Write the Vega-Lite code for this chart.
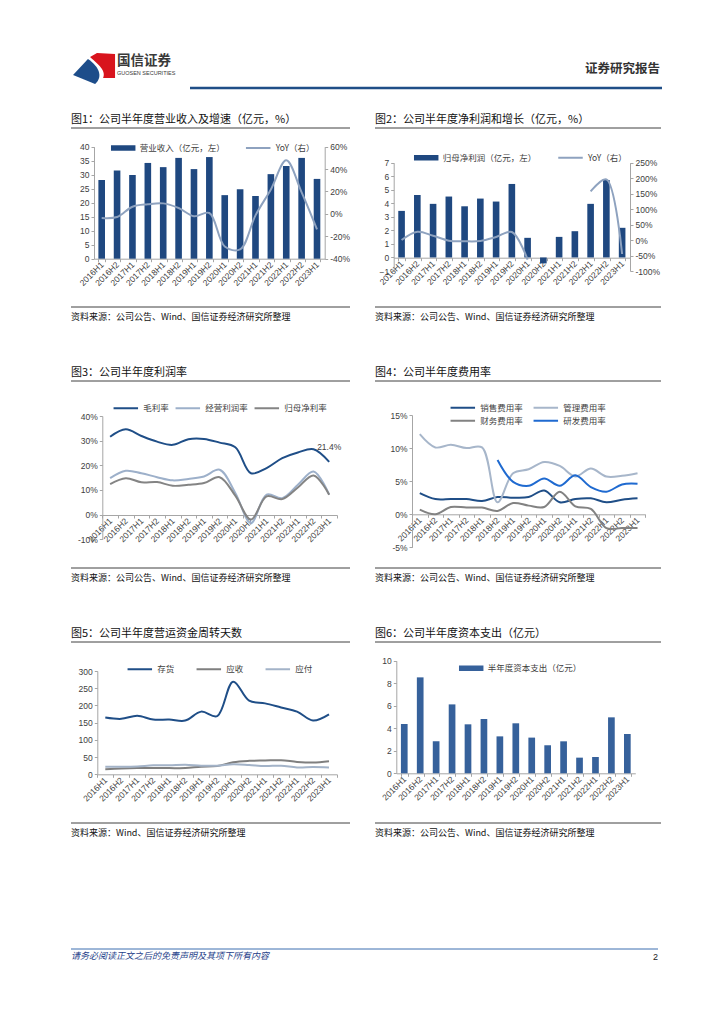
{
"$schema": "https://vega.github.io/schema/vega-lite/v6.json",
"padding": {"left": 68, "top": 52, "right": 0, "bottom": 0},
"background": "white",
"config": {
 "font": "Noto Sans CJK SC",
 "view": {"stroke": null},
 "axis": {"labelFont": "Liberation Sans", "labelFontSize": 8.5, "labelColor": "#404040", "domainColor": "#a6a6a6", "tickColor": "#a6a6a6", "tickSize": 3, "labelPadding": 2, "grid": false, "title": null, "labelOverlap": false, "labelBound": false},
 "legend": {"labelFont": "Noto Sans CJK SC", "labelFontSize": 8.5, "labelColor": "#404040", "padding": 0, "labelOffset": 4},
 "title": {"font": "Noto Sans CJK SC", "fontWeight": "normal", "color": "#111111"}
},
"datasets": {
 "one": [{"a": 0, "b": 1}],
 "d": [
  {"p": "2016H1", "rev": 28.1, "revYoY": -3.7, "ni": 3.44, "niYoY": 0, "毛利率": 31.6, "经营利润率": 14.8, "归母净利率": 12.4, "销售费用率": 3.2, "管理费用率": 12.1, "财务费用率": 0.7, "研发费用率": null, "存货": 165, "应收": 15, "应付": 22, "capex": 4.38},
  {"p": "2016H2", "rev": 31.5, "revYoY": -2.8, "ni": 4.62, "niYoY": 27, "毛利率": 34.6, "经营利润率": 17.8, "归母净利率": 14.8, "销售费用率": 2.3, "管理费用率": 10.1, "财务费用率": 0.0, "研发费用率": null, "存货": 161, "应收": 17, "应付": 22, "capex": 8.52},
  {"p": "2017H1", "rev": 29.9, "revYoY": 6.4, "ni": 3.96, "niYoY": 14, "毛利率": 31.9, "经营利润率": 16.8, "归母净利率": 13.1, "销售费用率": 2.3, "管理费用率": 10.5, "财务费用率": 1.1, "研发费用率": null, "存货": 170, "应收": 18, "应付": 23, "capex": 2.84},
  {"p": "2017H2", "rev": 34.2, "revYoY": 8.6, "ni": 4.50, "niYoY": -2, "毛利率": 29.6, "经营利润率": 15.2, "归母净利率": 13.2, "销售费用率": 2.3, "管理费用率": 10.0, "财务费用率": 1.0, "研发费用率": null, "存货": 159, "应收": 18, "应付": 26, "capex": 6.12},
  {"p": "2018H1", "rev": 32.7, "revYoY": 9.4, "ni": 3.78, "niYoY": -4, "毛利率": 28.3, "经营利润率": 13.9, "归母净利率": 11.7, "销售费用率": 2.0, "管理费用率": 10.1, "财务费用率": 1.0, "研发费用率": null, "存货": 159, "应收": 18, "应付": 26, "capex": 4.35},
  {"p": "2018H2", "rev": 36.0, "revYoY": 5.3, "ni": 4.35, "niYoY": -3, "毛利率": 30.6, "经营利润率": 14.5, "归母净利率": 12.1, "销售费用率": 2.6, "管理费用率": 1.8, "财务费用率": 0.5, "研发费用率": 8.2, "存货": 156, "应收": 18, "应付": 28, "capex": 4.82},
  {"p": "2019H1", "rev": 32.0, "revYoY": -2.1, "ni": 4.13, "niYoY": 10, "毛利率": 30.7, "经营利润率": 15.5, "归母净利率": 12.8, "销售费用率": 2.5, "管理费用率": 6.2, "财务费用率": 1.7, "研发费用率": 4.9, "存货": 182, "应收": 22, "应付": 25, "capex": 3.28},
  {"p": "2019H2", "rev": 36.3, "revYoY": 0.8, "ni": 5.43, "niYoY": 26, "毛利率": 29.2, "经营利润率": 18.2, "归母净利率": 15.2, "销售费用率": 2.6, "管理费用率": 6.8, "财务费用率": 1.3, "研发费用率": 4.3, "存货": 169, "应收": 24, "应付": 25, "capex": 4.44},
  {"p": "2020H1", "rev": 22.7, "revYoY": -29.1, "ni": 1.45, "niYoY": -63, "毛利率": 27.3, "经营利润率": 8.8, "归母净利率": 7.7, "销售费用率": 3.6, "管理费用率": 7.9, "财务费用率": 1.1, "研发费用率": 5.4, "存货": 269, "应收": 35, "应付": 29, "capex": 3.17},
  {"p": "2020H2", "rev": 24.8, "revYoY": -31.7, "ni": -0.44, "niYoY": null, "毛利率": 16.8, "经营利润率": -3.4, "归母净利率": -2.0, "销售费用率": 1.8, "管理费用率": 7.3, "财务费用率": 3.4, "研发费用率": 4.3, "存货": 214, "应收": 39, "应付": 27, "capex": 2.49},
  {"p": "2021H1", "rev": 22.4, "revYoY": -1.3, "ni": 1.52, "niYoY": null, "毛利率": 18.9, "经营利润率": 8.1, "归母净利率": 7.4, "销售费用率": 2.3, "管理费用率": 5.7, "财务费用率": 1.2, "研发费用率": 5.9, "存货": 206, "应收": 40, "应付": 24, "capex": 2.84},
  {"p": "2021H2", "rev": 30.2, "revYoY": 21.8, "ni": 1.94, "niYoY": null, "毛利率": 22.9, "经营利润率": 6.7, "归母净利率": 6.3, "销售费用率": 2.4, "管理费用率": 6.9, "财务费用率": 0.8, "研发费用率": 4.1, "存货": 194, "应收": 41, "应付": 25, "capex": 1.39},
  {"p": "2022H1", "rev": 33.1, "revYoY": 47.8, "ni": 3.96, "niYoY": 157, "毛利率": 25.2, "经营利润率": 12.1, "归母净利率": 11.0, "销售费用率": 1.8, "管理费用率": 5.7, "财务费用率": -2.1, "研发费用率": 3.4, "存货": 182, "应收": 36, "应付": 20, "capex": 1.45},
  {"p": "2022H2", "rev": 36.0, "revYoY": 19.2, "ni": 5.72, "niYoY": 196, "毛利率": 26.5, "经营利润率": 17.5, "归母净利率": 15.9, "销售费用率": 2.2, "管理费用率": 5.8, "财务费用率": -2.1, "研发费用率": 4.5, "存货": 156, "应收": 34, "应付": 21, "capex": 4.97},
  {"p": "2023H1", "rev": 28.5, "revYoY": -13.9, "ni": 2.19, "niYoY": -45, "毛利率": 21.4, "经营利润率": 8.1, "归母净利率": 8.1, "销售费用率": 2.4, "管理费用率": 6.2, "财务费用率": -2.1, "研发费用率": 4.6, "存货": 174, "应收": 38, "应付": 20, "capex": 3.49}
 ]
},
"resolve": {"scale": {"color": "independent", "stroke": "independent", "shape": "independent"}, "legend": {"color": "independent", "stroke": "independent", "shape": "independent"}},
"spacing": 24,
"vconcat": [
 {
  "hconcat": [
   {"width": 44, "height": 32,
    "data": {"values": [{"part": "蓝"}, {"part": "红"}]},
    "mark": {"type": "point", "filled": true, "opacity": 1, "size": 1764, "strokeWidth": 0},
    "encoding": {
     "shape": {"field": "part", "type": "nominal", "scale": {"domain": ["蓝", "红"], "range": ["M-0.95,0.33L-0.24,-0.43C0.24,-0.1 0.52,0.38 0.1,0.76Z", "M-0.14,-0.52L0.19,-0.71L1.05,-0.67L1.05,0.48L0.48,0.48C0.67,0.1 0.1,-0.29 -0.14,-0.52Z"]}, "legend": null},
     "color": {"field": "part", "type": "nominal", "scale": {"domain": ["蓝", "红"], "range": ["#1d4d8a", "#d8141d"]}, "legend": null}
    }
   },
   {"width": 70, "height": 1,
    "data": {"name": "one"},
    "title": {"text": "国信证券", "subtitle": "GUOSEN SECURITIES", "orient": "bottom", "anchor": "start", "frame": "group", "offset": 1, "fontSize": 13.5, "fontWeight": "bold", "color": "#3a3a3a", "subtitleFont": "Liberation Sans", "subtitleFontSize": 5.5, "subtitleColor": "#3a3a3a", "subtitlePadding": 3},
    "mark": {"type": "rule", "strokeOpacity": 0},
    "encoding": {"x": {"field": "a", "type": "quantitative", "scale": {"domain": [0, 1]}, "axis": null}, "x2": {"field": "b"}}
   },
   {"width": 472, "height": 36,
    "data": {"name": "one"},
    "title": {"text": "证券研究报告", "anchor": "end", "frame": "group", "offset": -23, "dx": -2, "fontSize": 12.5, "fontWeight": "bold", "color": "#333333"},
    "mark": {"type": "rule", "color": "#1f4e87", "strokeWidth": 2.5},
    "encoding": {"x": {"field": "a", "type": "quantitative", "scale": {"domain": [0, 1]}, "axis": null}, "x2": {"field": "b"}, "y": {"datum": 0, "type": "quantitative", "scale": {"domain": [0, 1]}, "axis": null}}
   }
  ],
  "spacing": 1,
  "resolve": {"scale": {"color": "independent", "stroke": "independent", "shape": "independent"}, "legend": {"color": "independent", "stroke": "independent", "shape": "independent"}}
 },
 {
  "spacing": 45,
  "resolve": {"scale": {"color": "independent", "stroke": "independent", "shape": "independent"}, "legend": {"color": "independent", "stroke": "independent", "shape": "independent"}},
  "vconcat": [
   {
    "spacing": 21,
    "resolve": {"scale": {"color": "independent", "stroke": "independent", "shape": "independent"}, "legend": {"color": "independent", "stroke": "independent", "shape": "independent"}},
    "hconcat": [
     {
      "spacing": 0,
      "resolve": {"scale": {"color": "independent", "stroke": "independent", "shape": "independent"}, "legend": {"color": "independent", "stroke": "independent", "shape": "independent"}},
      "vconcat": [
       {"width": 279, "height": 1, "data": {"name": "one"},
        "title": {"text": "图1：公司半年度营业收入及增速（亿元，%）", "anchor": "start", "frame": "group", "offset": 2, "fontSize": 11},
        "mark": {"type": "rule", "color": "#404040", "strokeWidth": 1},
        "encoding": {"x": {"field": "a", "type": "quantitative", "scale": {"domain": [0, 1]}, "axis": null}, "x2": {"field": "b"}, "y": {"datum": 0, "type": "quantitative", "scale": {"domain": [0, 1]}, "axis": null}}},
       {"width": 279, "height": 177, "data": {"name": "d"},
        "layer": [
         {"mark": {"type": "bar", "color": "#1f4880"},
          "encoding": {
           "x": {"field": "p", "type": "ordinal", "sort": null, "scale": {"type": "band", "range": [23, 253.7], "paddingInner": 0.57, "paddingOuter": 0.285}, "axis": {"offset": -47.3, "labelAngle": -45, "labelAlign": "right", "labelBaseline": "middle", "tickBand": "extent", "labelOverlap": false, "labelPadding": 1}},
           "y": {"field": "rev", "type": "quantitative", "scale": {"domain": [0, 40], "range": [129.7, 17.7], "nice": false}, "axis": {"orient": "left", "offset": -23, "values": [0, 5, 10, 15, 20, 25, 30, 35, 40], "labelOverlap": false}},
           "color": {"datum": "营业收入（亿元，左）", "type": "nominal", "scale": {"range": ["#1f4880"]}, "legend": {"title": null, "orient": "none", "legendX": 39.7, "legendY": 14, "direction": "horizontal", "symbolType": "M-1,-0.22H1V0.22H-1Z", "symbolSize": 600, "symbolStrokeWidth": 0, "clipHeight": 10}}
          }},
         {"mark": {"type": "line", "strokeWidth": 2, "interpolate": "catmull-rom"},
          "encoding": {
           "x": {"field": "p", "type": "ordinal", "sort": null, "bandPosition": 0.5, "scale": {"type": "band", "range": [23, 253.7], "paddingInner": 0.57, "paddingOuter": 0.285}},
           "y": {"field": "revYoY", "type": "quantitative", "scale": {"domain": [-40, 60], "range": [129.7, 17.7], "nice": false, "zero": false}, "axis": {"orient": "right", "offset": -25.3, "values": [-40, -20, 0, 20, 40, 60], "labelExpr": "datum.value + '%'", "labelOverlap": false}},
           "stroke": {"datum": "YoY（右）", "type": "nominal", "scale": {"range": ["#8ea2bf"]}, "legend": {"title": null, "orient": "none", "legendX": 173.7, "legendY": 14, "direction": "horizontal", "symbolType": "stroke", "symbolSize": 600, "symbolStrokeWidth": 2, "clipHeight": 10}}
          }}
        ],
        "resolve": {"scale": {"y": "independent"}, "axis": {"y": "independent"}}},
       {"width": 279, "height": 1, "data": {"name": "one"},
        "title": {"text": "资料来源：公司公告、Wind、国信证券经济研究所整理", "orient": "bottom", "anchor": "start", "frame": "group", "offset": 5, "fontSize": 9},
        "mark": {"type": "rule", "color": "#404040", "strokeWidth": 1},
        "encoding": {"x": {"field": "a", "type": "quantitative", "scale": {"domain": [0, 1]}, "axis": null}, "x2": {"field": "b"}, "y": {"datum": 1, "type": "quantitative", "scale": {"domain": [0, 1]}, "axis": null}}}
      ]
     },
     {
      "spacing": 0,
      "resolve": {"scale": {"color": "independent", "stroke": "independent", "shape": "independent"}, "legend": {"color": "independent", "stroke": "independent", "shape": "independent"}},
      "vconcat": [
       {"width": 286, "height": 1, "data": {"name": "one"},
        "title": {"text": "图2：公司半年度净利润和增长（亿元，%）", "anchor": "start", "frame": "group", "offset": 2, "fontSize": 11},
        "mark": {"type": "rule", "color": "#404040", "strokeWidth": 1},
        "encoding": {"x": {"field": "a", "type": "quantitative", "scale": {"domain": [0, 1]}, "axis": null}, "x2": {"field": "b"}, "y": {"datum": 0, "type": "quantitative", "scale": {"domain": [0, 1]}, "axis": null}}},
       {"width": 286, "height": 177, "data": {"name": "d"},
        "layer": [
         {"mark": {"type": "bar", "color": "#1f4880"},
          "encoding": {
           "x": {"field": "p", "type": "ordinal", "sort": null, "scale": {"type": "band", "range": [18.7, 255], "paddingInner": 0.58, "paddingOuter": 0.29}, "axis": {"offset": -48.3, "labelAngle": -45, "labelAlign": "right", "labelBaseline": "middle", "tickBand": "extent", "labelOverlap": false, "labelPadding": 1}},
           "y": {"field": "ni", "type": "quantitative", "scale": {"domain": [-1, 7], "range": [142, 33.7], "nice": false}, "axis": {"orient": "left", "offset": -18.7, "values": [-1, 0, 1, 2, 3, 4, 5, 6, 7], "labelOverlap": false}},
           "color": {"datum": "归母净利润（亿元，左）", "type": "nominal", "scale": {"range": ["#1f4880"]}, "legend": {"title": null, "orient": "none", "legendX": 38.7, "legendY": 23.7, "direction": "horizontal", "symbolType": "M-1,-0.22H1V0.22H-1Z", "symbolSize": 600, "symbolStrokeWidth": 0, "clipHeight": 10}}
          }},
         {"mark": {"type": "line", "strokeWidth": 2, "interpolate": "catmull-rom", "invalid": "break-paths-show-domains"},
          "encoding": {
           "x": {"field": "p", "type": "ordinal", "sort": null, "bandPosition": 0.5, "scale": {"type": "band", "range": [18.7, 255], "paddingInner": 0.58, "paddingOuter": 0.29}},
           "y": {"field": "niYoY", "type": "quantitative", "scale": {"domain": [-100, 250], "range": [142, 33.7], "nice": false, "zero": false}, "axis": {"orient": "right", "offset": -31, "values": [-100, -50, 0, 50, 100, 150, 200, 250], "labelExpr": "datum.value + '%'", "labelOverlap": false}},
           "stroke": {"datum": "YoY（右）", "type": "nominal", "scale": {"range": ["#8ea2bf"]}, "legend": {"title": null, "orient": "none", "legendX": 182, "legendY": 23.7, "direction": "horizontal", "symbolType": "stroke", "symbolSize": 600, "symbolStrokeWidth": 2, "clipHeight": 10}}
          }}
        ],
        "resolve": {"scale": {"y": "independent"}, "axis": {"y": "independent"}}},
       {"width": 286, "height": 1, "data": {"name": "one"},
        "title": {"text": "资料来源：公司公告、Wind、国信证券经济研究所整理", "orient": "bottom", "anchor": "start", "frame": "group", "offset": 5, "fontSize": 9},
        "mark": {"type": "rule", "color": "#404040", "strokeWidth": 1},
        "encoding": {"x": {"field": "a", "type": "quantitative", "scale": {"domain": [0, 1]}, "axis": null}, "x2": {"field": "b"}, "y": {"datum": 1, "type": "quantitative", "scale": {"domain": [0, 1]}, "axis": null}}}
      ]
     }
    ]
   },
   {
    "spacing": 21,
    "resolve": {"scale": {"color": "independent", "stroke": "independent", "shape": "independent"}, "legend": {"color": "independent", "stroke": "independent", "shape": "independent"}},
    "hconcat": [
     {
      "spacing": 0,
      "resolve": {"scale": {"color": "independent", "stroke": "independent", "shape": "independent"}, "legend": {"color": "independent", "stroke": "independent", "shape": "independent"}},
      "vconcat": [
       {"width": 279, "height": 1, "data": {"name": "one"},
        "title": {"text": "图3：公司半年度利润率", "anchor": "start", "frame": "group", "offset": 2, "fontSize": 11},
        "mark": {"type": "rule", "color": "#404040", "strokeWidth": 1},
        "encoding": {"x": {"field": "a", "type": "quantitative", "scale": {"domain": [0, 1]}, "axis": null}, "x2": {"field": "b"}, "y": {"datum": 0, "type": "quantitative", "scale": {"domain": [0, 1]}, "axis": null}}},
       {"width": 279, "height": 185,
        "layer": [
         {"data": {"name": "d"},
          "transform": [{"fold": ["毛利率", "经营利润率", "归母净利率"], "as": ["s", "v"]}],
          "mark": {"type": "line", "strokeWidth": 2, "interpolate": "catmull-rom"},
          "encoding": {
           "x": {"field": "p", "type": "ordinal", "sort": null, "bandPosition": 0.5, "scale": {"type": "band", "range": [31.3, 266], "paddingInner": 0, "paddingOuter": 0}, "axis": {"offset": -52, "labelAngle": -45, "labelAlign": "right", "labelBaseline": "middle", "tickBand": "extent", "labelOverlap": false, "labelPadding": 1}},
           "y": {"field": "v", "type": "quantitative", "scale": {"domain": [-10, 40], "range": [157.3, 34], "nice": false}, "axis": {"orient": "left", "offset": -31.3, "values": [-10, 0, 10, 20, 30, 40], "labelExpr": "datum.value + '%'", "labelOverlap": false}},
           "stroke": {"field": "s", "type": "nominal", "scale": {"domain": ["毛利率", "经营利润率", "归母净利率"], "range": ["#1f4e87", "#9db0ca", "#848484"]}, "legend": {"title": null, "orient": "none", "legendX": 41.3, "legendY": 21.3, "direction": "horizontal", "symbolType": "stroke", "symbolSize": 600, "symbolStrokeWidth": 2, "clipHeight": 10, "columnPadding": 5}}
          }},
         {"data": {"values": [{"p": "2023H1", "v": 21.4, "t": "21.4%"}]},
          "mark": {"type": "text", "dy": -15, "font": "Liberation Sans", "fontSize": 8.5, "color": "#404040"},
          "encoding": {
           "x": {"field": "p", "type": "ordinal", "sort": null, "bandPosition": 0.5},
           "y": {"field": "v", "type": "quantitative", "axis": {"orient": "left", "offset": -31.3, "values": [-10, 0, 10, 20, 30, 40], "labelExpr": "datum.value + '%'", "labelOverlap": false}},
           "text": {"field": "t"}
          }}
        ]},
       {"width": 279, "height": 1, "data": {"name": "one"},
        "title": {"text": "资料来源：公司公告、Wind、国信证券经济研究所整理", "orient": "bottom", "anchor": "start", "frame": "group", "offset": 5, "fontSize": 9},
        "mark": {"type": "rule", "color": "#404040", "strokeWidth": 1},
        "encoding": {"x": {"field": "a", "type": "quantitative", "scale": {"domain": [0, 1]}, "axis": null}, "x2": {"field": "b"}, "y": {"datum": 1, "type": "quantitative", "scale": {"domain": [0, 1]}, "axis": null}}}
      ]
     },
     {
      "spacing": 0,
      "resolve": {"scale": {"color": "independent", "stroke": "independent", "shape": "independent"}, "legend": {"color": "independent", "stroke": "independent", "shape": "independent"}},
      "vconcat": [
       {"width": 286, "height": 1, "data": {"name": "one"},
        "title": {"text": "图4：公司半年度费用率", "anchor": "start", "frame": "group", "offset": 2, "fontSize": 11},
        "mark": {"type": "rule", "color": "#404040", "strokeWidth": 1},
        "encoding": {"x": {"field": "a", "type": "quantitative", "scale": {"domain": [0, 1]}, "axis": null}, "x2": {"field": "b"}, "y": {"datum": 0, "type": "quantitative", "scale": {"domain": [0, 1]}, "axis": null}}},
       {"width": 286, "height": 185, "data": {"name": "d"},
        "transform": [{"fold": ["销售费用率", "管理费用率", "财务费用率", "研发费用率"], "as": ["s", "v"]}],
        "mark": {"type": "line", "strokeWidth": 2, "interpolate": "catmull-rom"},
        "encoding": {
         "x": {"field": "p", "type": "ordinal", "sort": null, "bandPosition": 0.5, "scale": {"type": "band", "range": [37, 270.3], "paddingInner": 0, "paddingOuter": 0}, "axis": {"offset": -52.7, "labelAngle": -45, "labelAlign": "right", "labelBaseline": "middle", "tickBand": "extent", "labelOverlap": false, "labelPadding": 1}},
         "y": {"field": "v", "type": "quantitative", "scale": {"domain": [-5, 15], "range": [165.3, 33], "nice": false}, "axis": {"orient": "left", "offset": -37, "values": [-5, 0, 5, 10, 15], "labelExpr": "datum.value + '%'", "labelOverlap": false}},
         "stroke": {"field": "s", "type": "nominal", "scale": {"domain": ["销售费用率", "管理费用率", "财务费用率", "研发费用率"], "range": ["#1f4e87", "#a7b6ca", "#828282", "#1f6ad0"]}, "legend": {"title": null, "orient": "none", "legendX": 74.3, "legendY": 20.7, "direction": "horizontal", "columns": 2, "symbolType": "stroke", "symbolSize": 600, "symbolStrokeWidth": 2, "clipHeight": 10, "columnPadding": 9, "rowPadding": 3}}
        }},
       {"width": 286, "height": 1, "data": {"name": "one"},
        "title": {"text": "资料来源：公司公告、Wind、国信证券经济研究所整理", "orient": "bottom", "anchor": "start", "frame": "group", "offset": 5, "fontSize": 9},
        "mark": {"type": "rule", "color": "#404040", "strokeWidth": 1},
        "encoding": {"x": {"field": "a", "type": "quantitative", "scale": {"domain": [0, 1]}, "axis": null}, "x2": {"field": "b"}, "y": {"datum": 1, "type": "quantitative", "scale": {"domain": [0, 1]}, "axis": null}}}
      ]
     }
    ]
   },
   {
    "spacing": 21,
    "resolve": {"scale": {"color": "independent", "stroke": "independent", "shape": "independent"}, "legend": {"color": "independent", "stroke": "independent", "shape": "independent"}},
    "hconcat": [
     {
      "spacing": 0,
      "resolve": {"scale": {"color": "independent", "stroke": "independent", "shape": "independent"}, "legend": {"color": "independent", "stroke": "independent", "shape": "independent"}},
      "vconcat": [
       {"width": 279, "height": 1, "data": {"name": "one"},
        "title": {"text": "图5：公司半年度营运资金周转天数", "anchor": "start", "frame": "group", "offset": 2, "fontSize": 11},
        "mark": {"type": "rule", "color": "#404040", "strokeWidth": 1},
        "encoding": {"x": {"field": "a", "type": "quantitative", "scale": {"domain": [0, 1]}, "axis": null}, "x2": {"field": "b"}, "y": {"datum": 0, "type": "quantitative", "scale": {"domain": [0, 1]}, "axis": null}}},
       {"width": 279, "height": 179, "data": {"name": "d"},
        "transform": [{"fold": ["存货", "应收", "应付"], "as": ["s", "v"]}],
        "mark": {"type": "line", "strokeWidth": 2, "interpolate": "catmull-rom"},
        "encoding": {
         "x": {"field": "p", "type": "ordinal", "sort": null, "bandPosition": 0.5, "scale": {"type": "band", "range": [26.3, 266], "paddingInner": 0, "paddingOuter": 0}, "axis": {"offset": -47.7, "labelAngle": -45, "labelAlign": "right", "labelBaseline": "middle", "tickBand": "extent", "labelOverlap": false, "labelPadding": 1}},
         "y": {"field": "v", "type": "quantitative", "scale": {"domain": [0, 300], "range": [131.3, 28], "nice": false}, "axis": {"orient": "left", "offset": -26.3, "values": [0, 50, 100, 150, 200, 250, 300], "labelOverlap": false}},
         "stroke": {"field": "s", "type": "nominal", "scale": {"domain": ["存货", "应收", "应付"], "range": ["#1f4e87", "#7f7f7f", "#a3b3c8"]}, "legend": {"title": null, "orient": "none", "legendX": 55.3, "legendY": 21.3, "direction": "horizontal", "symbolType": "stroke", "symbolSize": 600, "symbolStrokeWidth": 2, "clipHeight": 10, "columnPadding": 20}}
        }},
       {"width": 279, "height": 1, "data": {"name": "one"},
        "title": {"text": "资料来源：Wind、国信证券经济研究所整理", "orient": "bottom", "anchor": "start", "frame": "group", "offset": 5, "fontSize": 9},
        "mark": {"type": "rule", "color": "#404040", "strokeWidth": 1},
        "encoding": {"x": {"field": "a", "type": "quantitative", "scale": {"domain": [0, 1]}, "axis": null}, "x2": {"field": "b"}, "y": {"datum": 1, "type": "quantitative", "scale": {"domain": [0, 1]}, "axis": null}}}
      ]
     },
     {
      "spacing": 0,
      "resolve": {"scale": {"color": "independent", "stroke": "independent", "shape": "independent"}, "legend": {"color": "independent", "stroke": "independent", "shape": "independent"}},
      "vconcat": [
       {"width": 286, "height": 1, "data": {"name": "one"},
        "title": {"text": "图6：公司半年度资本支出（亿元）", "anchor": "start", "frame": "group", "offset": 2, "fontSize": 11},
        "mark": {"type": "rule", "color": "#404040", "strokeWidth": 1},
        "encoding": {"x": {"field": "a", "type": "quantitative", "scale": {"domain": [0, 1]}, "axis": null}, "x2": {"field": "b"}, "y": {"datum": 0, "type": "quantitative", "scale": {"domain": [0, 1]}, "axis": null}}},
       {"width": 286, "height": 179, "data": {"name": "d"},
        "mark": {"type": "bar", "color": "#36619b"},
        "encoding": {
         "x": {"field": "p", "type": "ordinal", "sort": null, "scale": {"type": "band", "range": [21.3, 260.3], "paddingInner": 0.58, "paddingOuter": 0.29}, "axis": {"offset": -48.7, "labelAngle": -45, "labelAlign": "right", "labelBaseline": "middle", "tickBand": "extent", "labelOverlap": false, "labelPadding": 1}},
         "y": {"field": "capex", "type": "quantitative", "scale": {"domain": [0, 10], "range": [130.3, 17.7], "nice": false}, "axis": {"orient": "left", "offset": -21.3, "values": [0, 2, 4, 6, 8, 10], "labelOverlap": false}},
         "color": {"datum": "半年度资本支出（亿元）", "type": "nominal", "scale": {"range": ["#36619b"]}, "legend": {"title": null, "orient": "none", "legendX": 83.7, "legendY": 20.3, "direction": "horizontal", "symbolType": "M-1,-0.22H1V0.22H-1Z", "symbolSize": 600, "symbolStrokeWidth": 0, "clipHeight": 10}}
        }},
       {"width": 286, "height": 1, "data": {"name": "one"},
        "title": {"text": "资料来源：公司公告、Wind、国信证券经济研究所整理", "orient": "bottom", "anchor": "start", "frame": "group", "offset": 5, "fontSize": 9},
        "mark": {"type": "rule", "color": "#404040", "strokeWidth": 1},
        "encoding": {"x": {"field": "a", "type": "quantitative", "scale": {"domain": [0, 1]}, "axis": null}, "x2": {"field": "b"}, "y": {"datum": 1, "type": "quantitative", "scale": {"domain": [0, 1]}, "axis": null}}}
      ]
     }
    ]
   }
  ]
 },
 {"width": 587, "height": 87,
  "layer": [
   {"data": {"name": "one"},
    "mark": {"type": "rule", "color": "#3d6fb0", "strokeWidth": 1},
    "encoding": {"x": {"field": "a", "type": "quantitative", "scale": {"domain": [0, 1]}, "axis": null}, "x2": {"field": "b"}, "y": {"datum": 0, "type": "quantitative", "scale": {"domain": [0, 1]}, "axis": null}}},
   {"data": {"values": [{"t": "请务必阅读正文之后的免责声明及其项下所有内容"}]},
    "mark": {"type": "text", "align": "left", "baseline": "top", "dy": 3, "fontSize": 9, "fontStyle": "italic", "color": "#1f3f8a"},
    "encoding": {"x": {"datum": 0, "type": "quantitative"}, "y": {"datum": 0, "type": "quantitative"}, "text": {"field": "t"}}},
   {"data": {"values": [{"pg": "2"}]},
    "mark": {"type": "text", "align": "right", "baseline": "top", "dy": 4, "fontSize": 9, "font": "Liberation Sans", "color": "#222222"},
    "encoding": {"x": {"datum": 1, "type": "quantitative"}, "y": {"datum": 0, "type": "quantitative"}, "text": {"field": "pg"}}}
  ]
 }
]
}
